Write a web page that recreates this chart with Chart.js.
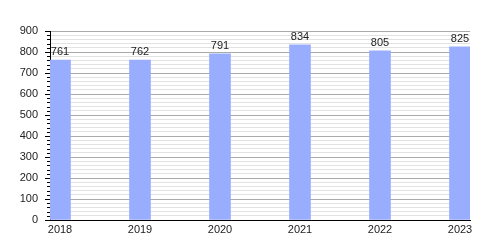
<!DOCTYPE html>
<html>
<head>
<meta charset="utf-8">
<script src="https://cdn.jsdelivr.net/npm/chart.js@4.4.1/dist/chart.umd.min.js"></script>
<style>
  html, body { margin: 0; padding: 0; background: #fff; }
  #wrap { width: 500px; height: 250px; }
</style>
</head>
<body>
<div id="wrap"><canvas id="chart"></canvas></div>
<script>
// data
var years = [2018, 2019, 2020, 2021, 2022, 2023];
var values = [761, 762, 791, 834, 805, 825];
var yMax = 900;

var barColor = '#99adff';

// value labels above bars
var barLabels = {
    id: 'barLabels',
    afterDatasetsDraw: function(chart) {
        var ctx = chart.ctx;
        var meta = chart.getDatasetMeta(0);
        ctx.save();
        ctx.font = '11px "Liberation Sans", Arial, sans-serif';
        ctx.fillStyle = '#222';
        ctx.textAlign = 'center';
        ctx.textBaseline = 'middle';
        meta.data.forEach(function(bar, i) {
            ctx.fillText(String(values[i]), bar.x, bar.y - 8);
        });
        ctx.restore();
    }
};

// small tick marks on the y axis (long for 100s, short for 20s)
var yTicks = {
    id: 'yTicks',
    afterDraw: function(chart) {
        var ctx = chart.ctx;
        var y = chart.scales.y;
        var left = chart.chartArea.left;
        ctx.save();
        ctx.strokeStyle = '#000';
        ctx.lineWidth = 1;
        y.ticks.forEach(function(t) {
            var py = Math.round(y.getPixelForValue(t.value)) + 0.5;
            var len = t.value % 100 === 0 ? 5 : 3;
            ctx.beginPath();
            ctx.moveTo(left - len, py);
            ctx.lineTo(left, py);
            ctx.stroke();
        });
        ctx.restore();
    }
};

var points = years.map(function(yr, i) { return { x: yr, y: values[i] }; });

new Chart(document.getElementById('chart'), {
    type: 'bar',
    data: {
        datasets: [{
            data: points,
            backgroundColor: barColor,
            borderWidth: 0,
            barThickness: 21
        }]
    },
    options: {
        responsive: true,
        maintainAspectRatio: false,
        animation: false,
        layout: { padding: { top: 31, right: 30, left: 0, bottom: 0 } },
        plugins: {
            legend: { display: false },
            tooltip: { enabled: false }
        },
        scales: {
            x: {
                type: 'linear',
                offset: false,
                min: 2017.875,
                max: 2023.125,
                grid: { display: false, drawTicks: false },
                border: { display: true, color: '#000', width: 1 },
                ticks: {
                    stepSize: 1,
                    includeBounds: false,
                    autoSkip: false,
                    maxRotation: 0,
                    padding: 3,
                    color: '#222',
                    font: { family: '"Liberation Sans", Arial, sans-serif', size: 11 },
                    callback: function(v) { return String(v); }
                },
                afterFit: function(scale) { scale.height = 30; }
            },
            y: {
                min: 0,
                max: yMax,
                grid: {
                    drawTicks: false,
                    color: function(c) {
                        if (!c.tick) return '#e2e2e2';
                        return c.tick.value % 100 === 0 ? '#aaaaaa' : '#e2e2e2';
                    }
                },
                border: { display: true, color: '#000', width: 1 },
                ticks: {
                    stepSize: 20,
                    autoSkip: false,
                    padding: 12,
                    color: '#222',
                    font: { family: '"Liberation Sans", Arial, sans-serif', size: 11 },
                    callback: function(v) { return v % 100 === 0 ? String(v) : ''; }
                },
                afterFit: function(scale) { scale.width = 50; }
            }
        }
    },
    plugins: [barLabels, yTicks]
});
</script>
</body>
</html>
